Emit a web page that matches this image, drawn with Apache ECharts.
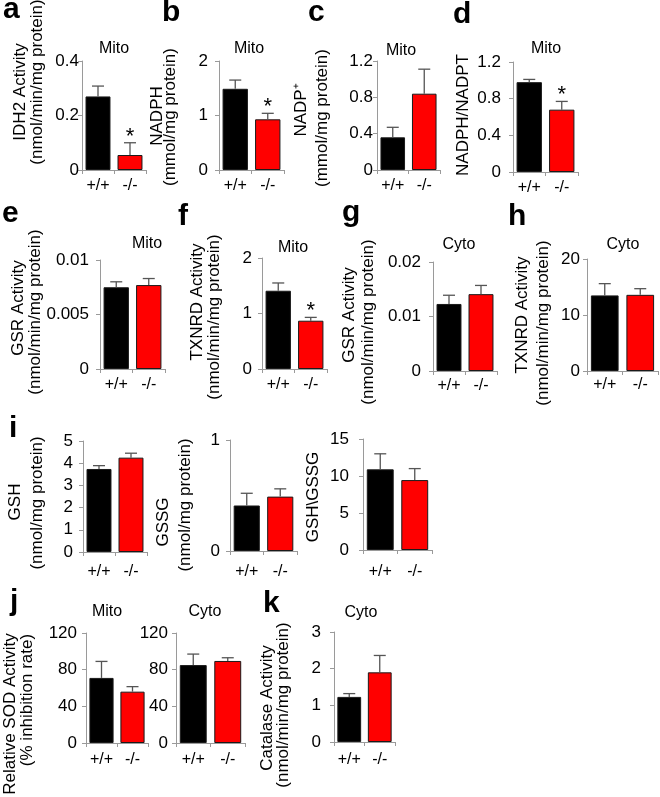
<!DOCTYPE html>
<html><head><meta charset="utf-8">
<script src="https://cdn.jsdelivr.net/npm/echarts@6/dist/echarts.min.js"></script>
<style>html,body{margin:0;padding:0;background:#fff}#c{width:660px;height:797px}</style>
</head><body><div id="c"></div>
<script>
// ---------------- data ----------------
const categories = ['+/+', '-/-'];

const idh2Activity = [0.27, 0.055];
const idh2Err = [0.038, 0.045];
const idh2Sig = [0, 1];

const nadph = [1.49, 0.93];
const nadphErr = [0.16, 0.11];
const nadphSig = [0, 1];

const nadp = [0.36, 0.84];
const nadpErr = [0.11, 0.27];
const nadpSig = [0, 0];

const nadphRatio = [0.98, 0.68];
const nadphRatioErr = [0.03, 0.09];
const nadphRatioSig = [0, 1];

const gsrMito = [0.0075, 0.0077];
const gsrMitoErr = [0.0005, 0.0006];
const gsrMitoSig = [0, 0];

const txnrdMito = [1.41, 0.87];
const txnrdMitoErr = [0.14, 0.06];
const txnrdMitoSig = [0, 1];

const gsrCyto = [0.0123, 0.0141];
const gsrCytoErr = [0.0016, 0.0016];
const gsrCytoSig = [0, 0];

const txnrdCyto = [13.5, 13.6];
const txnrdCytoErr = [2.1, 1.1];
const txnrdCytoSig = [0, 0];

const gsh = [3.74, 4.25];
const gshErr = [0.15, 0.2];
const gshSig = [0, 0];

const gssg = [0.41, 0.49];
const gssgErr = [0.11, 0.07];
const gssgSig = [0, 0];

const gshGssg = [10.9, 9.45];
const gshGssgErr = [2.1, 1.55];
const gshGssgSig = [0, 0];

const sodMito = [71, 56];
const sodMitoErr = [18, 5.5];
const sodMitoSig = [0, 0];

const sodCyto = [85, 89.5];
const sodCytoErr = [12, 3.5];
const sodCytoSig = [0, 0];

const catalase = [1.23, 1.9];
const catalaseErr = [0.09, 0.46];
const catalaseSig = [0, 0];

// axis scales (max, interval)
const yScales = {
  a: [0.4, 0.2], b: [2, 1], c: [1.2, 0.4], d: [1.2, 0.4],
  e: [0.01, 0.005], f: [2, 1], g: [0.02, 0.01], h: [20, 10],
  gsh: [5, 1], gssg: [1, 1], ratio: [15, 5],
  sodM: [120, 40], sodC: [120, 40], cat: [3, 1]
};

// ---------------- layout ----------------
const FONT = '"Liberation Sans", Arial, sans-serif';
const panels = [
  {k:'a', v:idh2Activity, e:idh2Err, s:idh2Sig, g:[82,61,64,109], lm:3, xm:8,
   title:['Mito',114,49], ylab:[['IDH2 Activity',20,92],['(nmol/min/mg protein)',37,82]]},
  {k:'b', v:nadph, e:nadphErr, s:nadphSig, g:[219,61,65,109], lm:11, xm:8,
   title:['Mito',249,49], ylab:[['NADPH',157,116],['(mmol/mg protein)',170,117]]},
  {k:'c', v:nadp, e:nadpErr, s:nadpSig, g:[377,61,63,109], lm:4, xm:8,
   title:['Mito',401,51], ylab:[['NADP\u207A',301,110],['(mmol/mg protein)',322,118]]},
  {k:'d', v:nadphRatio, e:nadphRatioErr, s:nadphRatioSig, g:[513,62,65,110], lm:12, xm:8,
   title:['Mito',546,49], ylab:[['NADPH/NADPT',463,115]]},
  {k:'e', v:gsrMito, e:gsrMitoErr, s:gsrMitoSig, g:[100,260,65,109], lm:11, xm:8,
   title:['Mito',147,244], ylab:[['GSR Activity',18,308],['(nmol/min/mg protein)',35,312]]},
  {k:'f', v:txnrdMito, e:txnrdMitoErr, s:txnrdMitoSig, g:[262,258,65,111], lm:10, xm:8,
   title:['Mito',293,248], ylab:[['TXNRD Activity',197,302],['(nmol/min/mg protein)',214,317]]},
  {k:'g', v:gsrCyto, e:gsrCytoErr, s:gsrCytoSig, g:[433,262,64,109], lm:12, xm:7,
   title:['Cyto',459,245], ylab:[['GSR Activity',349,315],['(nmol/min/mg protein)',368,322]]},
  {k:'h', v:txnrdCyto, e:txnrdCytoErr, s:txnrdCytoSig, g:[587,259,71,112], lm:7, xm:6,
   title:['Cyto',623,245], ylab:[['TXNRD Activity',522,315],['(nmol/min/mg protein)',543,323]]},
  {k:'gsh', v:gsh, e:gshErr, s:gshSig, g:[83,441,64,111], lm:10, xm:12,
   title:null, ylab:[['GSH',15,502],['(nmol/mg protein)',37,503]]},
  {k:'gssg', v:gssg, e:gssgErr, s:gssgSig, g:[230,440,67,111], lm:10, xm:13,
   title:null, ylab:[['GSSG',163,522],['(nmol/mg protein)',185,505]]},
  {k:'ratio', v:gshGssg, e:gshGssgErr, s:gshGssgSig, g:[363,439,69,111], lm:14, xm:14,
   title:null, ylab:[['GSH\\GSSG',313,497]]},
  {k:'sodM', v:sodMito, e:sodMitoErr, s:sodMitoSig, g:[86,633,62,110], lm:9, xm:9,
   title:['Mito',107,612], ylab:[['Relative SOD Activity',10,714],['(% inhibition rate)',27,700]]},
  {k:'sodC', v:sodCyto, e:sodCytoErr, s:sodCytoSig, g:[176,633,69,110], lm:8, xm:9,
   title:['Cyto',205,612], ylab:[]},
  {k:'cat', v:catalase, e:catalaseErr, s:catalaseSig, g:[334,632,61,110], lm:13, xm:10,
   title:['Cyto',361,613], ylab:[['Catalase Activity',267,708],['(nmol/min/mg protein)',283,705]]}
];
const letters = [
  ['a',3,25],['b',162,28],['c',308,28],['d',453,30],
  ['e',2,229],['f',178,232],['g',342,228],['h',508,232],
  ['i',9,444],['j',10,617],['k',263,619]
];

// ---------------- build ----------------
const grid = [], xAxis = [], yAxis = [], series = [], graphic = [];
const AX = '#9a9a9a';
function errRender(params, api) {
  const xi = api.value(0), v = api.value(1), top = api.value(2), s = api.value(3);
  const p0 = api.coord([xi, v]);
  const p1 = api.coord([xi, top]);
  const st = {stroke:'#555', lineWidth:1.3};
  const ch = [
    {type:'line', shape:{x1:p0[0], y1:p0[1], x2:p1[0], y2:p1[1]}, style:st},
    {type:'line', shape:{x1:p1[0]-6, y1:p1[1], x2:p1[0]+6, y2:p1[1]}, style:st}
  ];
  if (s) ch.push({type:'text', x:p1[0], y:p1[1]+5,
    style:{text:'*', fill:'#000', font:'22px ' + FONT, align:'center', verticalAlign:'bottom',
           textAlign:'center', textVerticalAlign:'bottom'}});
  return {type:'group', children:ch};
}
function txt(text, x, y, font, rot) {
  return {type:'text', x:x, y:y, rotation:rot || 0, silent:true,
    style:{text:text, fill:'#000', font:font, align:'center', verticalAlign:'middle',
           textAlign:'center', textVerticalAlign:'middle'}};
}
panels.forEach((p, i) => {
  const sc = yScales[p.k];
  grid.push({left:p.g[0], top:p.g[1], width:p.g[2], height:p.g[3], containLabel:false});
  xAxis.push({type:'category', gridIndex:i, data:categories, boundaryGap:true,
    axisLine:{lineStyle:{color:AX, width:1}},
    axisTick:{show:true, length:4, alignWithLabel:false, lineStyle:{color:AX}},
    axisLabel:{margin:p.xm, color:'#000', fontSize:16, fontFamily:FONT}});
  yAxis.push({type:'value', gridIndex:i, min:0, max:sc[0], interval:sc[1],
    splitLine:{show:false},
    axisLine:{show:true, lineStyle:{color:AX, width:1}},
    axisTick:{show:true, length:4, lineStyle:{color:AX}},
    axisLabel:{margin:p.lm, color:'#000', fontSize:17, fontFamily:FONT}});
  series.push({type:'bar', xAxisIndex:i, yAxisIndex:i, barCategoryGap:'22%',
    data:p.v.map((v, j) => ({value:v, itemStyle:{color: j === 0 ? '#000000' : '#ff0000'}})),
    itemStyle:{borderColor:'#1a1a1a', borderWidth:1}, silent:true});
  series.push({type:'custom', xAxisIndex:i, yAxisIndex:i, renderItem:errRender, clip:false,
    data:p.v.map((v, j) => [j, v, v + p.e[j], p.s[j]]), encode:{x:0, y:[1,2]}, silent:true, z:3});
  if (p.title) graphic.push(txt(p.title[0], p.title[1], p.title[2], '16px ' + FONT));
  p.ylab.forEach(l => graphic.push(txt(l[0], l[1], l[2], '17px ' + FONT, Math.PI/2)));
});
letters.forEach(l => {
  graphic.push({type:'text', x:l[1], y:l[2], silent:true,
    style:{text:l[0], fill:'#000', font:'bold 30px ' + FONT, align:'left', verticalAlign:'bottom',
           textAlign:'left', textVerticalAlign:'bottom'}});
});

const chart = echarts.init(document.getElementById('c'), null, {renderer:'canvas'});
chart.setOption({animation:false, backgroundColor:'#fff', grid, xAxis, yAxis, series, graphic});
</script></body></html>
